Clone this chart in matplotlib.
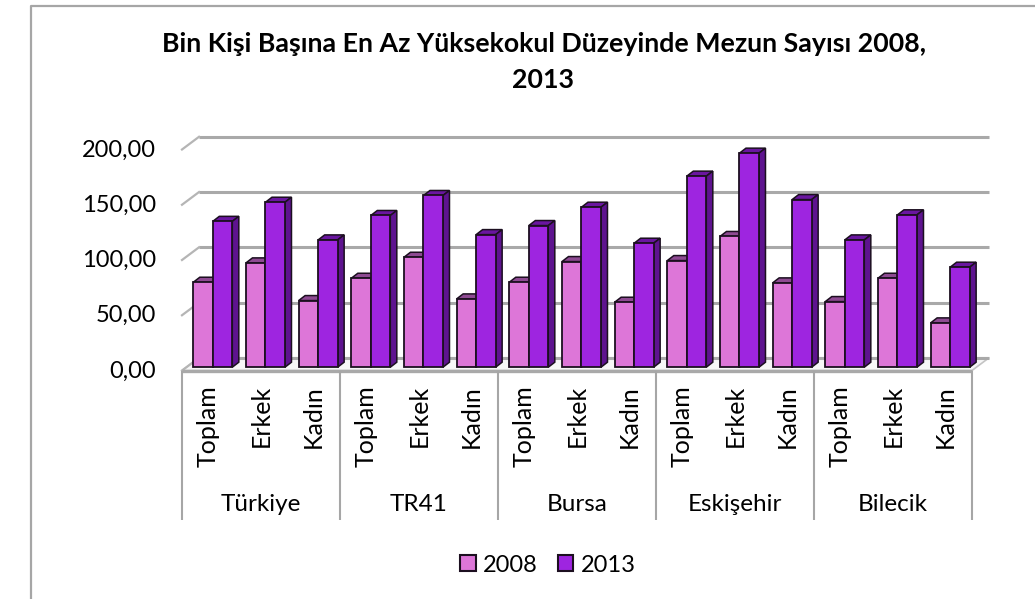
import matplotlib
matplotlib.use('Agg')
import matplotlib.pyplot as plt
from matplotlib.lines import Line2D
from matplotlib.patches import Polygon, Patch
from matplotlib.transforms import blended_transform_factory, ScaledTranslation
import numpy as np

plt.rcParams['font.family'] = ['Lato', 'DejaVu Sans']

regions = ['Türkiye', 'TR41', 'Bursa', 'Eskişehir', 'Bilecik']
genders = ['Toplam', 'Erkek', 'Kadın']
values_2008 = [76.9, 94.4, 60.3, 80.5, 99.5, 61.8, 76.9, 95.6, 58.8, 96.5, 118.3, 76.3, 59.4, 80.5, 40.1]
values_2013 = [132.0, 149.3, 115.2, 137.3, 155.4, 120.0, 128.2, 144.8, 112.2, 172.9, 193.7, 151.7, 115.2, 137.9, 90.5]
y_ticks = [0, 50, 100, 150, 200]
y_labels = ['0,00', '50,00', '100,00', '150,00', '200,00']

W, H = 1035, 599
fig = plt.figure(figsize=(W / 100, H / 100), dpi=100, facecolor='white')

L, R, B, T = 182, 972, 370.5, 149.5
ax = fig.add_axes([L / W, 1 - B / H, (R - L) / W, (B - T) / H])
ax.set_xlim(0, 15)
ax.set_ylim(0, 200)
ax.patch.set_alpha(0)
for s in ax.spines.values():
    s.set_visible(False)

px_x = 15 / (R - L)
px_y = 200 / (B - T)
wall_dx, wall_dy = 17 * px_x, 12.7 * px_y
GRID = '#a9a9a9'

# outer frame
fig.add_artist(Line2D([30.5 / W, 30.5 / W, 1], [0, 1 - 6 / H, 1 - 6 / H], color='#a6a6a6', lw=1.6))

# floor, walls and gridlines
floor = Polygon([(0, 0), (15, 0), (15 + wall_dx, wall_dy), (wall_dx, wall_dy)], closed=True,
                fc='#f7f7f7', ec='#c4c4c4', lw=1.2, clip_on=False, zorder=1)
ax.add_patch(floor)
for v in y_ticks:
    ax.plot([wall_dx, 15 + wall_dx], [v + wall_dy, v + wall_dy], color=GRID, lw=2.2, clip_on=False,
            zorder=1.5, solid_capstyle='butt')
    ax.plot([0, wall_dx], [v, v + wall_dy], color='#b5b5b5', lw=1.6, clip_on=False, zorder=1.5)
ax.plot([0, 15], [0, 0], color=GRID, lw=2.4, clip_on=False, zorder=1.6, solid_capstyle='butt')

# bars
bar_w = 19.5 * px_x
shift = 0.085
base = 3.3 * px_y
dep_x, dep_y = 6.5 * px_x, 5 * px_y
EDGE = '#1c0f20'
styles = [(values_2008, '#DD76D8', '#8E4A92', '#7C3E86', -bar_w / 2),
          (values_2013, '#9E25E0', '#6A16A0', '#5E138F', bar_w / 2)]
for i in range(len(values_2008)):
    for s_i, (vals, front, top, side, off) in enumerate(styles):
        xc = i + 0.5 + shift + off
        v = vals[i]
        x0, x1 = xc - bar_w / 2, xc + bar_w / 2
        y0, y1 = base, base + v
        z = 3 + i + s_i * 0.1
        ax.add_patch(Polygon([(x0, y1), (x1, y1), (x1 + dep_x, y1 + dep_y), (x0 + dep_x, y1 + dep_y)],
                             closed=True, fc=top, ec=EDGE, lw=1.1, clip_on=False, zorder=z))
        ax.add_patch(Polygon([(x1, y0), (x1 + dep_x, y0 + dep_y), (x1 + dep_x, y1 + dep_y), (x1, y1)],
                             closed=True, fc=side, ec=EDGE, lw=1.1, clip_on=False, zorder=z))
        ax.bar(xc, v, width=bar_w, bottom=base, color=front, edgecolor=EDGE, linewidth=1.3,
               clip_on=False, zorder=z + 0.01)

# axes labels
ax.set_yticks(y_ticks, y_labels, fontsize=17, color='black')
ax.tick_params(axis='y', length=0, pad=18.7)
for t in ax.get_yticklabels():
    t.set_transform(t.get_transform() + ScaledTranslation(0, 1.5 / 100, fig.dpi_scale_trans))
ax.set_xticks(np.arange(15) + 0.5, genders * len(regions), rotation=90, fontsize=18, color='black')
ax.tick_params(axis='x', length=0, pad=10.3)

# group separators and labels
sep_tr = blended_transform_factory(ax.transData, fig.transFigure)
for i in range(len(regions) + 1):
    ax.plot([3 * i, 3 * i], [1 - 371 / H, 1 - 520 / H], color='#a6a6a6', lw=1.5, transform=sep_tr, clip_on=False,
            solid_capstyle='butt')
for i, name in enumerate(regions):
    ax.text(3 * i + 1.5, 1 - 504.5 / H, name, transform=sep_tr, ha='center', va='center', fontsize=17.5)

# title
fig.text(544 / W, 1 - 52.5 / H, 'Bin Kişi Başına En Az Yüksekokul Düzeyinde Mezun Sayısı 2008,',
         ha='center', va='baseline', fontsize=19.3, fontweight='bold')
fig.text(543 / W, 1 - 88 / H, '2013', ha='center', va='baseline', fontsize=19.3, fontweight='bold')

# legend
leg_handles = [Patch(fc='#DD76D8', ec=EDGE, lw=1.5, label='2008'), Patch(fc='#9E25E0', ec=EDGE, lw=1.5, label='2013')]
fig.legend(handles=leg_handles, loc='center', bbox_to_anchor=(548 / W, 1 - 565 / H), ncol=2, frameon=False,
           fontsize=17, handlelength=0.66, handleheight=0.66, handletextpad=0.3, columnspacing=0.85)

fig.savefig('out.png', dpi=100)
